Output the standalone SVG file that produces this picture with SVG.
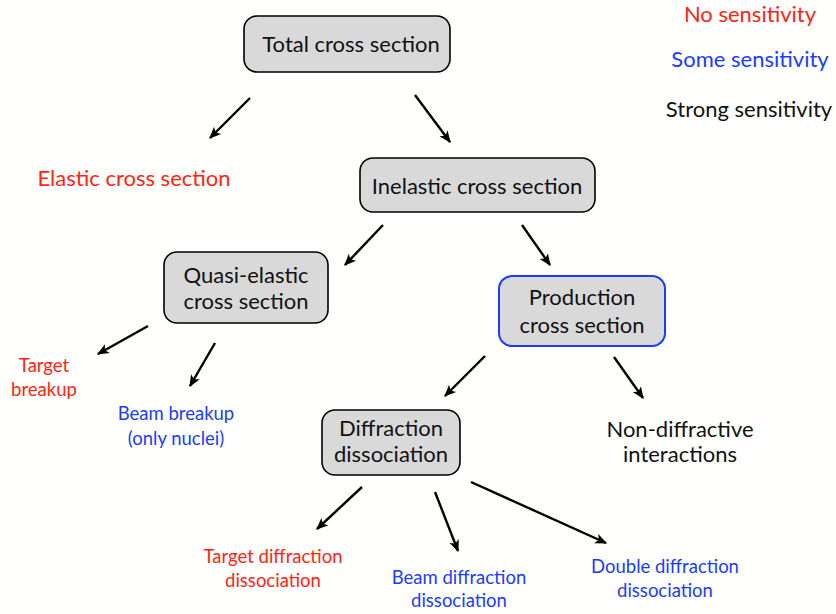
<svg xmlns="http://www.w3.org/2000/svg" width="836" height="614" viewBox="0 0 836 614">
<style>
text{font-family:Lato,"Open Sans","Liberation Sans",sans-serif;text-anchor:middle}
.box{fill:#d9d9d9;stroke:#000;stroke-width:1.6}
.blue-box{fill:#d9d9d9;stroke:#1a3cff;stroke-width:2}
.t{font-size:22px;fill:#111}
.s{font-size:18.5px}
.r{fill:#ff2412}
.b{fill:#1a3cff}
.arr{stroke:#000;stroke-width:2.4;fill:none;marker-end:url(#ah)}
</style>
<defs>
<marker id="ah" viewBox="0 0 10 10" refX="9" refY="5" markerWidth="5" markerHeight="5" orient="auto" markerUnits="strokeWidth">
<path d="M0,0.8 L10,5 L0,9.2 L2.5,5 Z" fill="#000"/>
</marker>
</defs>
<rect width="836" height="614" fill="#fffffd"/>
<g id="legend">
<text x="750" y="22" class="t" style="fill:#ff2412">No sensitivity</text>
<text x="750" y="67" class="t" style="fill:#1a3cff">Some sensitivity</text>
<text x="749" y="117" class="t">Strong sensitivity</text>
</g>
<g id="connectors">
<line class="arr" x1="250" y1="98" x2="210" y2="138"/>
<line class="arr" x1="415" y1="95" x2="450" y2="142"/>
<line class="arr" x1="383" y1="225" x2="345" y2="265"/>
<line class="arr" x1="522" y1="225" x2="550" y2="265"/>
<line class="arr" x1="148" y1="326" x2="98" y2="354"/>
<line class="arr" x1="215" y1="343" x2="190" y2="386"/>
<line class="arr" x1="485" y1="356" x2="445" y2="396"/>
<line class="arr" x1="614" y1="357" x2="643" y2="398"/>
<line class="arr" x1="362" y1="487" x2="317" y2="529"/>
<line class="arr" x1="435" y1="492" x2="458" y2="551"/>
<line class="arr" x1="471" y1="482" x2="606" y2="543"/>
</g>
<g id="total">
<rect class="box" x="244" y="16" width="206" height="56" rx="13"/>
<text x="351" y="52" class="t">Total cross section</text>
</g>
<g id="elastic">
<text x="134" y="186" class="t r">Elastic cross section</text>
</g>
<g id="inelastic">
<rect class="box" x="360" y="158" width="235" height="54" rx="13"/>
<text x="477" y="194" class="t">Inelastic cross section</text>
</g>
<g id="quasi">
<rect class="box" x="164" y="252" width="164" height="71" rx="13"/>
<text x="246" y="283" class="t">Quasi-elastic</text>
<text x="246" y="309" class="t">cross section</text>
</g>
<g id="production">
<rect class="blue-box" x="499" y="276" width="166" height="70" rx="13"/>
<text x="582" y="305" class="t">Production</text>
<text x="582" y="333" class="t">cross section</text>
</g>
<g id="target-breakup">
<text x="44" y="372" class="s r">Target</text>
<text x="44" y="396" class="s r">breakup</text>
</g>
<g id="beam-breakup">
<text x="176" y="420" class="s b">Beam breakup</text>
<text x="176" y="445" class="s b">(only nuclei)</text>
</g>
<g id="diffraction">
<rect class="box" x="322" y="410" width="138" height="65" rx="13"/>
<text x="391" y="436" class="t">Diffraction</text>
<text x="391" y="462" class="t">dissociation</text>
</g>
<g id="non-diffractive">
<text x="680" y="437" class="t">Non-diffractive</text>
<text x="680" y="462" class="t">interactions</text>
</g>
<g id="target-diff">
<text x="273" y="563" class="s r">Target diffraction</text>
<text x="273" y="587" class="s r">dissociation</text>
</g>
<g id="beam-diff">
<text x="459" y="584" class="s b">Beam diffraction</text>
<text x="459" y="607" class="s b">dissociation</text>
</g>
<g id="double-diff">
<text x="665" y="573" class="s b">Double diffraction</text>
<text x="665" y="597" class="s b">dissociation</text>
</g>
</svg>
